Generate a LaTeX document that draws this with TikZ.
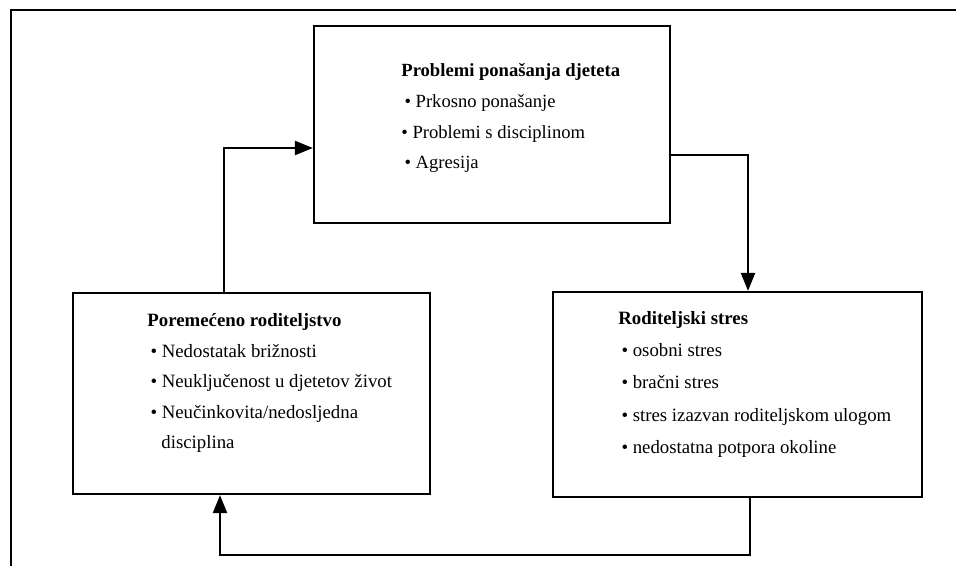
\documentclass[tikz,border=0pt]{standalone}
\usepackage{fontspec}
\setmainfont{Liberation Serif}
\usetikzlibrary{arrows.meta}
\tikzset{
  okvir/.style={draw, line width=1.1pt, rectangle, inner sep=0pt},
  tekst/.style={anchor=north west, inner sep=0pt, align=left},
  veza/.style={line width=1.1pt, -{Triangle[length=9pt,width=7pt]}}
}
\begin{document}
\begin{tikzpicture}[x=0.5pt, y=-0.5pt]
\useasboundingbox (0,0) rectangle (956,566);
\draw[line width=1.1pt] (956,10) -- (11,10) -- (11,566);
% boxes
\node[okvir, minimum width=178pt, minimum height=98.5pt] (prob) at (492,124.5) {};
\node[okvir, minimum width=178.5pt, minimum height=100.5pt] (rod) at (251.5,393.5) {};
\node[okvir, minimum width=184.5pt, minimum height=102.5pt] (stres) at (737.5,394.5) {};
% texts
\node[tekst, font=\fontsize{9.3}{15.4}\selectfont] (probtxt) at (401,63)
  {\textbf{Problemi ponašanja djeteta}\\
   \,• Prkosno ponašanje\\
   • Problemi s disciplinom\\
   \,• Agresija};
\node[tekst, font=\fontsize{9.4}{15.3}\selectfont] (rodtxt) at (147,313)
  {\textbf{Poremećeno roditeljstvo}\\
   \,• Nedostatak brižnosti\\
   \,• Neuključenost u djetetov život\\
   \,• Neučinkovita/nedosljedna\\
   \hspace*{7pt}disciplina};
\node[tekst, font=\fontsize{9.4}{16.1}\selectfont] (strestxt) at (618,311)
  {\textbf{Roditeljski stres}\\
   \,• osobni stres\\
   \,• bračni stres\\
   \,• stres izazvan roditeljskom ulogom\\
   \,• nedostatna potpora okoline};
% connectors
\coordinate (c1) at (224,148);
\coordinate (c2) at (748,155);
\coordinate (c3) at (750,555);
\coordinate (c4) at (220,555);
\draw[veza] (c1 |- rod.north) -- (c1) -- (prob.west |- c1);
\draw[veza] (prob.east |- c2) -- (c2) -- (c2 |- stres.north);
\draw[veza] (c3 |- stres.south) -- (c3) -- (c4) -- (c4 |- rod.south);
\end{tikzpicture}
\end{document}
